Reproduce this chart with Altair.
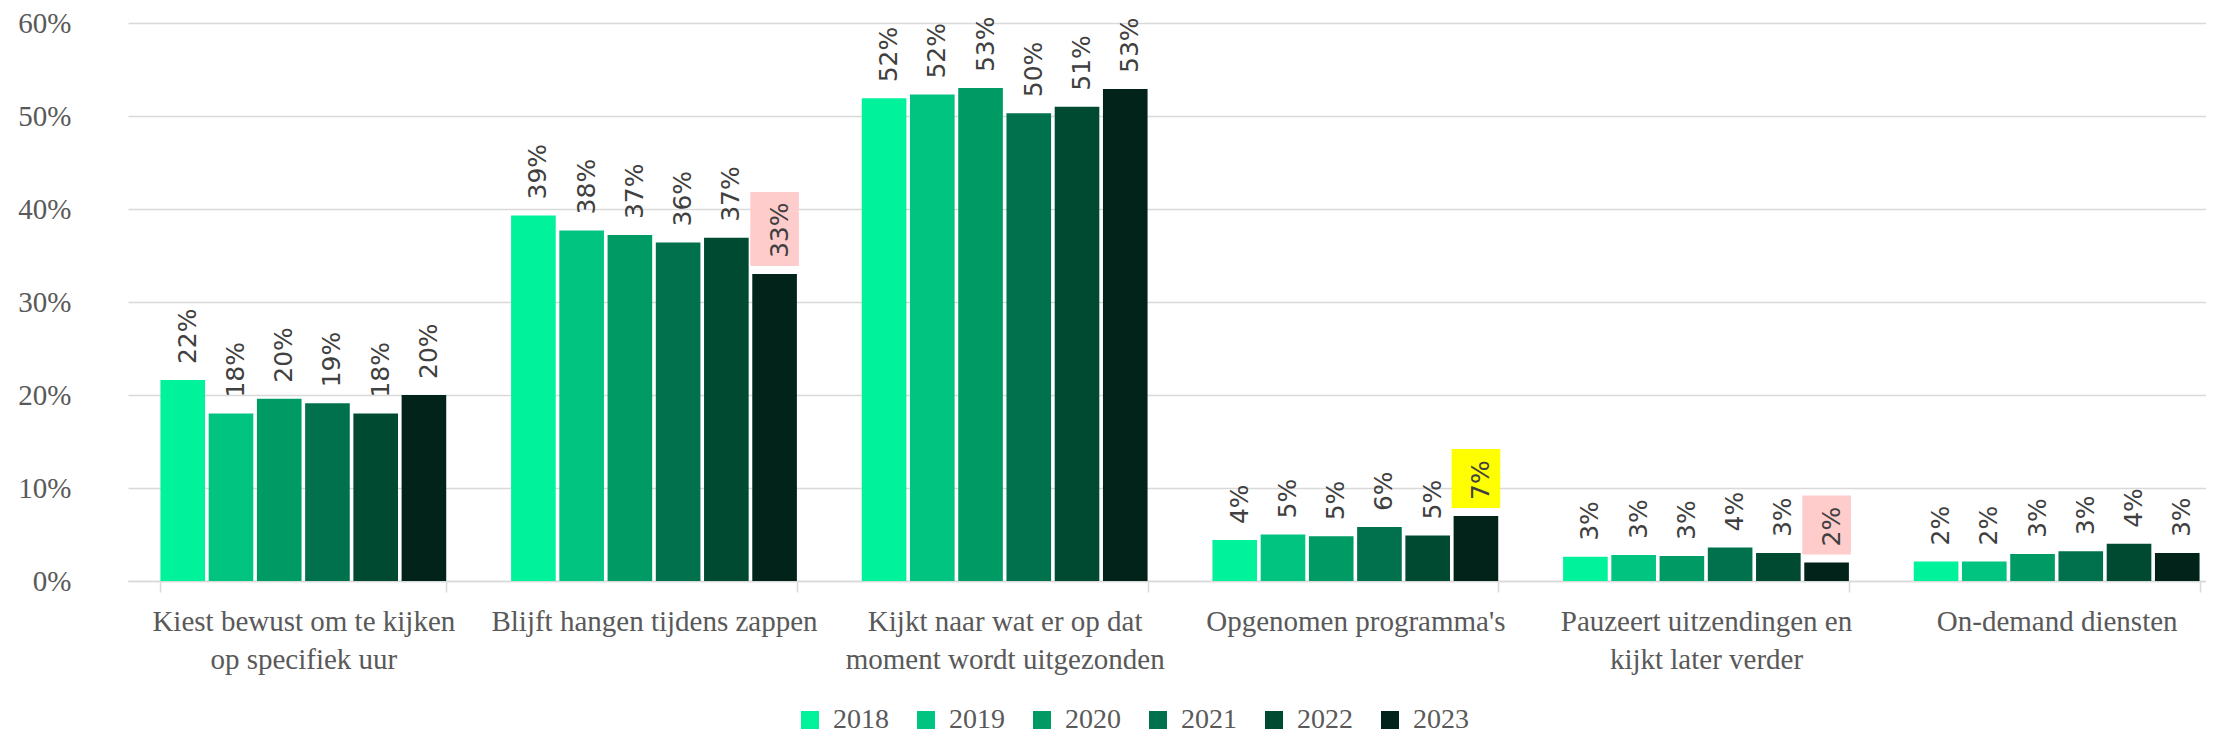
import altair as alt
import pandas as pd

categories = [
    "Kiest bewust om te kijken|op specifiek uur",
    "Blijft hangen tijdens zappen",
    "Kijkt naar wat er op dat|moment wordt uitgezonden",
    "Opgenomen programma's",
    "Pauzeert uitzendingen en|kijkt later verder",
    "On-demand diensten",
]
years = ["2018", "2019", "2020", "2021", "2022", "2023"]

v2018 = [21.6, 39.3, 51.9, 4.4, 2.6, 2.1]
v2019 = [18.0, 37.7, 52.3, 5.0, 2.8, 2.1]
v2020 = [19.6, 37.2, 53.0, 4.8, 2.7, 2.9]
v2021 = [19.1, 36.4, 50.3, 5.8, 3.6, 3.2]
v2022 = [18.0, 36.9, 51.0, 4.9, 3.0, 4.0]
v2023 = [20.0, 33.0, 52.9, 7.0, 2.0, 3.0]
series = [v2018, v2019, v2020, v2021, v2022, v2023]

year_colors = ["#00f29b", "#00c47f", "#009a64", "#00714c", "#004a32", "#02231a"]

# highlighted labels (category index, year, background colour)
hl_category = [1, 3, 4]
hl_year = ["2023", "2023", "2023"]
hl_color = ["#ffcccc", "#ffff00", "#ffcccc"]

ytick_values = [0, 10, 20, 30, 40, 50, 60]

rows = []
for yi, yr in enumerate(years):
    for ci, cat in enumerate(categories):
        rows.append({"category": cat, "year": yr, "value": series[yi][ci]})
df = pd.DataFrame(rows)

SERIF = "Liberation Serif"
SANS = "DejaVu Sans"
GREY = "#595959"
LINE = "#d9d9d9"

x_enc = alt.X(
    "category:N",
    sort=categories,
    scale=alt.Scale(range=[0, 2104], paddingInner=0.185, paddingOuter=0.0925),
    axis=alt.Axis(
        title=None,
        labelAngle=0,
        labelExpr="split(datum.label, '|')",
        labelFont=SERIF,
        labelFontSize=29,
        labelColor=GREY,
        labelLineHeight=38,
        labelLimit=0,
        labelPadding=15,
        labelBaseline="top",
        tickBand="extent",
        ticks=True,
        tickSize=11,
        tickColor=LINE,
        tickWidth=1.5,
        domainColor=LINE,
        domainWidth=1.5,
        grid=False,
    ),
)
xoff_enc = alt.XOffset(
    "year:N", sort=years, scale=alt.Scale(paddingInner=0.075, paddingOuter=0)
)
y_enc = alt.Y(
    "value:Q",
    scale=alt.Scale(domain=[0, 60], nice=False),
    axis=alt.Axis(
        title=None,
        values=ytick_values,
        labelExpr="datum.value + '%'",
        labelFont=SERIF,
        labelFontSize=29,
        labelColor=GREY,
        labelPadding=57,
        ticks=False,
        domain=False,
        grid=True,
        gridColor=LINE,
        gridWidth=1.5,
    ),
)

base = alt.Chart(df).encode(x=x_enc, xOffset=xoff_enc)

bars = base.mark_bar().encode(
    y=y_enc,
    color=alt.Color(
        "year:N",
        sort=years,
        scale=alt.Scale(domain=years, range=year_colors),
        legend=alt.Legend(
            title=None,
            orient="none",
            direction="horizontal",
            legendX=668,
            legendY=683,
            symbolType="square",
            symbolSize=324,
            symbolStrokeWidth=0,
            symbolOpacity=1,
            labelFont=SERIF,
            labelFontSize=28,
            labelColor=GREY,
            labelOffset=9,
            columnPadding=23,
            padding=0,
        ),
    ),
)

layers = [bars]
for ci, yr, col in zip(hl_category, hl_year, hl_color):
    cat = categories[ci]
    val = series[years.index(yr)][ci]
    nchar = len(f"{int(val + 0.5)}%")
    top_off = -(15 * nchar + 37)
    box = (
        base.mark_bar(color=col, stroke=col, strokeWidth=4, yOffset=-10, y2Offset=top_off + 2)
        .encode(y=alt.Y("value:Q"), y2=alt.Y2("value"))
        .transform_filter(
            (alt.datum.category == cat) & (alt.datum.year == yr)
        )
    )
    layers.append(box)

labels = (
    base.mark_text(
        angle=270,
        align="left",
        baseline="middle",
        dx=16,
        dy=5,
        font=SANS,
        fontSize=25,
        color="#404040",
    )
    .encode(y=alt.Y("value:Q"), text="label:N")
    .transform_calculate(label="format(datum.value, '.0f') + '%'")
)
layers.append(labels)

chart = (
    alt.layer(*layers)
    .properties(
        width=2078,
        height=558,
        autosize=alt.AutoSizeParams(type="none"),
        padding={"left": 120, "top": 15, "right": 0, "bottom": 153},
        background="white",
    )
    .configure_view(stroke=None)
)

chart.save("out.html", embed_options={"renderer": "svg", "actions": False})
